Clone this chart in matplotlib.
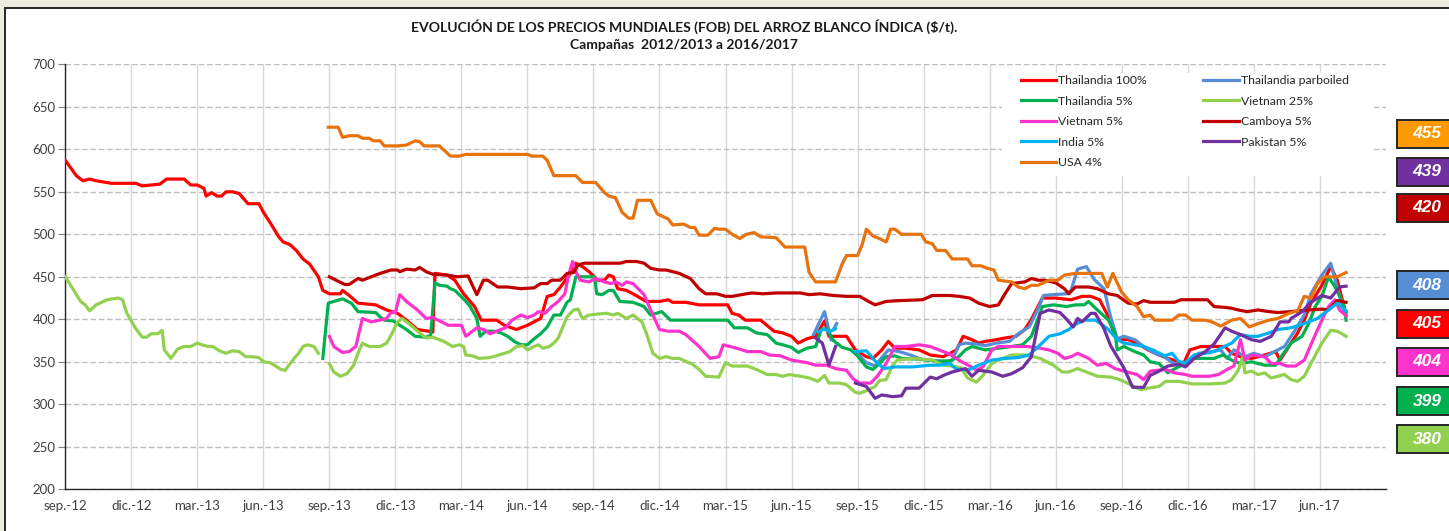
import numpy as np
import matplotlib
matplotlib.use("Agg")
import matplotlib.pyplot as plt
from matplotlib.patches import Rectangle

nan = np.nan

# (months since sep-2012, $/t)
th100 = [(0, 587), (0.5, 569), (0.8, 563), (1.1, 565), (1.4, 563), (2.1, 560), (3.2, 560), (3.5, 557),
         (4.3, 559), (4.6, 565), (5.4, 565), (5.7, 558), (6.0, 558), (6.3, 554), (6.4, 545), (6.65, 549),
         (6.9, 545), (7.1, 545), (7.3, 550), (7.6, 550), (7.9, 548), (8.3, 536), (8.8, 536), (9.0, 526),
         (9.3, 514), (9.7, 497), (9.9, 491), (10.2, 488), (10.5, 481), (10.8, 471), (11.1, 465), (11.5, 450),
         (11.7, 434), (12.0, 430), (12.5, 430), (12.6, 434), (12.9, 428), (13.3, 419), (14.1, 417), (14.6, 411),
         (15.1, 407), (15.5, 399), (16.0, 388), (16.5, 386), (16.7, 385), (16.8, 454), (17.35, 452), (17.7, 446),
         (18.1, 430), (18.6, 415), (18.9, 399), (19.6, 399), (19.95, 393), (20.5, 388), (21.0, 393), (21.6, 401),
         (21.9, 427), (22.2, 429), (22.5, 438), (22.9, 452), (23.2, 466), (23.5, 462), (23.8, 456), (24.2, 446),
         (24.5, 446), (24.7, 452), (24.9, 450), (25.1, 436), (25.5, 434), (25.8, 430), (26.4, 421), (27.0, 421),
         (27.4, 423), (27.6, 420), (28.2, 420), (28.8, 417), (30.1, 417), (30.3, 407), (30.6, 405), (30.9, 399),
         (31.6, 399), (32.2, 386), (32.6, 384), (33.0, 380), (33.3, 372), (33.7, 377), (34.1, 380), (34.5, 398),
         (34.7, 380), (35.1, 380), (35.5, 380), (35.9, 364), (36.4, 356), (36.7, 354), (37.1, 364), (37.4, 374),
         (37.7, 366), (38.2, 366), (38.8, 364), (39.3, 358), (39.9, 356), (40.5, 364), (40.8, 380), (41.2, 376),
         (41.5, 372), (41.8, 374), (42.3, 376), (42.7, 378), (43.2, 380), (43.6, 388), (43.9, 400), (44.4, 425),
         (45.0, 425), (45.7, 423), (46.2, 427), (46.6, 427), (47.0, 423), (47.4, 403), (47.7, 380), (47.9, 376),
         (48.3, 376), (48.7, 372), (49.2, 364), (49.7, 358), (50.1, 354), (50.6, 350), (50.8, 347), (51.1, 364),
         (51.6, 368), (52.1, 368), (52.7, 368), (53.0, 360), (53.4, 356), (53.9, 354), (54.5, 358), (55.0, 362),
         (55.2, 352), (55.6, 368), (56.0, 384), (56.3, 399), (56.6, 419), (57.1, 440), (57.5, 462), (57.8, 446),
         (58.2, 405)]

th_parb = [(34.0, 382), (34.5, 409), (34.8, 376), (34.85, nan), (34.9, 388), (35.05, 395), (35.5, nan),
           (35.9, 362), (36.4, 349), (36.8, 345), (37.1, 355), (37.4, 364), (37.9, 362), (38.4, 358), (38.9, 353),
           (39.5, 351), (40.0, 350), (40.3, 352), (40.6, 370), (40.9, 372), (41.4, 371), (41.8, 369), (42.3, 372),
           (42.9, 374), (43.3, 383), (43.8, 391), (44.25, 415), (44.45, 428), (44.85, 429), (45.5, 430), (45.7, 434),
           (46.0, 459), (46.4, 462), (46.75, 447), (47.2, 436), (47.5, 403), (47.8, 377), (48.1, 380), (48.6, 376),
           (49.0, 368), (49.5, 360), (49.95, 356), (50.3, 349), (50.7, 346), (51.1, 353), (51.5, 360), (52.1, 362),
           (52.5, 364), (52.8, 354), (53.1, 364), (53.6, 356), (54.0, 360), (54.5, 356), (55.1, 364), (55.4, 368),
           (55.9, 388), (56.3, 405), (56.6, 430), (57.1, 452), (57.5, 466), (57.8, 437), (58.1, 410), (58.2, 408)]

th5 = [(11.7, 354), (11.95, 419), (12.2, 421), (12.6, 424), (13.0, 419), (13.3, 409), (14.1, 408), (14.3, 403),
       (14.5, 399), (14.9, 398), (15.2, 393), (15.5, 388), (15.9, 380), (16.4, 379), (16.6, 381), (16.8, 443),
       (17.0, 440), (17.35, 439), (17.5, 436), (17.7, 434), (18.1, 424), (18.4, 415), (18.7, 401), (18.85, 380),
       (19.1, 386), (19.5, 386), (19.8, 384), (20.1, 380), (20.4, 374), (20.7, 370), (21.0, 370), (21.3, 377),
       (21.6, 383), (21.9, 391), (22.2, 405), (22.5, 405), (22.8, 420), (22.95, 423), (23.2, 450), (24.05, 450),
       (24.15, 430), (24.4, 429), (24.7, 434), (24.9, 434), (25.2, 421), (25.8, 420), (26.3, 415), (26.6, 405),
       (27.1, 409), (27.5, 399), (30.1, 399), (30.4, 390), (31.0, 390), (31.4, 384), (31.9, 382), (32.3, 372),
       (32.6, 370), (33.0, 367), (33.3, 361), (33.7, 366), (34.1, 368), (34.35, 388), (34.6, 389), (34.9, 375),
       (35.3, 367), (35.7, 364), (36.0, 357), (36.4, 344), (36.7, 341), (37.0, 348), (37.3, 356), (37.7, 357),
       (38.0, 354), (38.8, 353), (39.6, 351), (40.2, 351), (40.6, 356), (40.9, 364), (41.2, 368), (41.8, 364),
       (42.4, 366), (43.0, 368), (43.5, 370), (43.9, 380), (44.4, 415), (44.9, 417), (45.5, 415), (45.9, 417),
       (46.3, 417), (46.5, 421), (46.9, 411), (47.4, 399), (47.7, 384), (47.8, 364), (48.1, 368), (48.6, 362),
       (49.0, 358), (49.3, 350), (49.7, 348), (50.1, 337), (50.5, 343), (50.9, 348), (51.2, 354), (52.2, 354),
       (52.6, 358), (53.0, 352), (53.4, 348), (53.9, 350), (54.5, 346), (55.0, 346), (55.3, 358), (55.7, 372),
       (56.2, 380), (56.5, 395), (56.8, 415), (57.1, 427), (57.4, 450), (57.7, 438), (58.1, 417), (58.2, 399)]

vn25 = [(0, 450), (0.7, 421), (0.9, 417), (1.1, 410), (1.4, 417), (1.9, 423), (2.4, 425), (2.6, 423), (2.8, 407),
        (3.2, 389), (3.5, 379), (3.7, 379), (3.9, 383), (4.2, 383), (4.4, 387), (4.5, 364), (4.8, 354), (5.1, 365),
        (5.4, 368), (5.7, 368), (6.0, 372), (6.2, 370), (6.5, 368), (6.7, 368), (7.0, 363), (7.3, 360), (7.6, 363),
        (7.9, 362), (8.2, 356), (8.5, 356), (8.8, 355), (9.0, 350), (9.3, 349), (9.5, 346), (9.8, 341), (10.0, 340),
        (10.1, 344), (10.4, 354), (10.6, 360), (10.8, 368), (11.0, 370), (11.3, 368), (11.5, 360), (11.75, nan),
        (12.0, 348), (12.2, 338), (12.5, 333), (12.8, 336), (13.1, 346), (13.3, 360), (13.5, 372), (13.8, 368),
        (14.3, 368), (14.6, 372), (14.8, 381), (15.1, 397), (15.3, 401), (15.7, 393), (16.1, 384), (16.4, 378),
        (16.7, 379), (17.2, 374), (17.6, 368), (17.9, 370), (18.1, 368), (18.2, 358), (18.5, 357), (18.8, 354),
        (19.3, 355), (19.7, 358), (20.2, 362), (20.5, 368), (20.8, 369), (21.0, 364), (21.3, 368), (21.5, 370),
        (21.7, 366), (22.0, 368), (22.2, 372), (22.4, 378), (22.8, 403), (23.1, 411), (23.3, 412), (23.5, 401),
        (23.8, 405), (24.1, 406), (24.6, 407), (24.9, 405), (25.1, 407), (25.5, 401), (25.8, 405), (26.2, 397),
        (26.4, 384), (26.7, 360), (27.0, 354), (27.3, 356), (27.6, 354), (27.9, 354), (28.5, 347), (28.8, 341),
        (29.1, 333), (29.7, 332), (30.0, 349), (30.3, 345), (31.0, 345), (31.4, 341), (31.9, 335), (32.3, 335),
        (32.6, 333), (32.9, 335), (33.4, 333), (33.8, 331), (34.2, 327), (34.5, 334), (34.7, 325), (35.2, 325),
        (35.5, 323), (35.9, 314), (36.1, 313), (36.4, 316), (36.8, 321), (37.0, 328), (37.3, 329), (37.6, 346),
        (37.8, 352), (38.5, 354), (39.4, 352), (39.9, 346), (40.3, 345), (40.7, 343), (41.0, 331), (41.4, 326),
        (41.7, 334), (42.1, 348), (42.4, 352), (43.0, 358), (43.7, 358), (44.3, 354), (44.9, 346), (45.3, 338),
        (45.6, 338), (46.0, 342), (46.5, 337), (46.9, 333), (47.5, 332), (47.8, 330), (48.1, 327), (48.4, 323),
        (48.9, 317), (49.2, 319), (49.7, 321), (50.0, 327), (50.6, 327), (51.2, 324), (52.0, 324), (52.7, 325),
        (53.0, 329), (53.3, 340), (53.5, 356), (53.6, 337), (53.9, 339), (54.2, 335), (54.5, 337), (54.8, 331),
        (55.4, 335), (55.7, 329), (56.0, 327), (56.3, 333), (56.6, 348), (57.1, 372), (57.5, 387), (57.8, 386),
        (58.2, 380)]

vn5 = [(12.0, 380), (12.2, 368), (12.6, 361), (12.9, 362), (13.2, 368), (13.5, 401), (13.9, 397), (14.3, 399),
       (14.6, 401), (14.8, 408), (15.0, 408), (15.2, 429), (15.5, 421), (16.0, 411), (16.4, 401), (16.7, 402),
       (17.1, 397), (17.4, 393), (18.0, 393), (18.2, 380), (18.7, 390), (19.0, 388), (19.3, 383), (19.6, 386),
       (20.0, 390), (20.3, 399), (20.7, 405), (21.0, 402), (21.3, 405), (21.5, 409), (21.8, 407), (22.1, 415),
       (22.4, 421), (22.7, 430), (22.85, 450), (23.05, 468), (23.2, 456), (23.4, 446), (23.8, 444), (24.1, 448),
       (24.5, 444), (24.8, 442), (25.0, 444), (25.3, 440), (25.5, 444), (25.8, 442), (26.3, 429), (26.6, 411),
       (27.0, 388), (27.4, 386), (27.9, 386), (28.2, 382), (28.8, 368), (29.3, 354), (29.7, 356), (29.9, 370),
       (30.2, 368), (30.5, 366), (31.0, 362), (31.6, 362), (32.0, 358), (32.5, 357), (33.0, 352), (33.7, 349),
       (34.1, 346), (34.6, 346), (35.0, 342), (35.5, 340), (35.8, 330), (36.1, 325), (36.6, 325), (36.9, 333),
       (37.3, 348), (37.7, 368), (38.2, 368), (38.8, 370), (39.3, 368), (39.7, 364), (40.2, 359), (40.6, 352),
       (41.1, 345), (41.4, 340), (41.7, 344), (42.1, 364), (42.4, 368), (43.0, 368), (43.7, 368), (44.3, 366),
       (44.7, 364), (45.1, 360), (45.4, 354), (45.7, 356), (46.0, 360), (46.5, 354), (46.9, 346), (47.3, 348),
       (47.7, 342), (48.1, 339), (48.7, 335), (49.0, 329), (49.3, 339), (50.0, 341), (50.4, 337), (50.9, 335),
       (51.2, 333), (52.0, 333), (52.4, 335), (52.8, 341), (53.1, 345), (53.4, 376), (53.6, 352), (53.9, 358),
       (54.5, 356), (54.8, 348), (55.2, 348), (55.5, 345), (55.9, 345), (56.3, 352), (56.7, 376), (57.1, 399),
       (57.4, 415), (57.7, 423), (57.9, 411), (58.2, 404)]

camb5 = [(12.0, 450), (12.3, 446), (12.7, 441), (12.9, 441), (13.3, 448), (13.5, 446), (13.9, 450), (14.3, 454),
         (14.8, 458), (15.1, 458), (15.2, 456), (15.5, 459), (15.9, 458), (16.1, 461), (16.4, 456), (16.7, 453),
         (17.35, 452), (17.8, 450), (18.3, 451), (18.5, 440), (18.7, 429), (19.0, 446), (19.2, 446), (19.65, 438),
         (20.1, 438), (20.7, 436), (21.3, 437), (21.6, 442), (21.9, 442), (22.1, 446), (22.5, 446), (22.8, 454),
         (23.1, 455), (23.3, 464), (23.6, 466), (25.2, 466), (25.5, 468), (25.95, 468), (26.3, 466), (26.6, 460),
         (27.0, 458), (27.3, 458), (27.9, 454), (28.4, 448), (28.8, 436), (29.1, 430), (29.6, 430), (30.0, 427),
         (30.3, 427), (30.95, 430), (31.2, 431), (31.7, 430), (32.3, 431), (33.4, 431), (33.8, 429), (34.3, 430),
         (34.9, 428), (35.5, 427), (36.1, 427), (36.5, 421), (36.8, 417), (37.3, 421), (37.9, 422), (38.95, 423),
         (39.4, 428), (40.2, 428), (40.6, 427), (41.1, 425), (41.5, 419), (42.0, 415), (42.4, 417), (42.7, 430),
         (43.0, 442), (43.6, 444), (43.9, 448), (44.2, 446), (44.5, 446), (45.0, 443), (45.4, 436), (45.6, 430),
         (45.9, 438), (46.5, 438), (46.9, 436), (47.4, 430), (47.8, 428), (48.3, 419), (48.7, 418), (49.0, 422),
         (49.3, 420), (50.4, 420), (50.7, 423), (51.9, 423), (52.2, 415), (52.7, 414), (53.0, 413), (53.3, 411),
         (53.7, 409), (54.2, 411), (54.7, 409), (55.1, 408), (55.7, 409), (56.5, 411), (57.1, 412), (57.4, 411),
         (57.8, 422), (58.2, 420)]

india5 = [(34.2, 385), (34.5, 389), (34.7, 385), (35.0, 389), (35.5, nan), (35.9, 362), (36.4, 363), (36.8, 351),
          (37.2, 342), (37.7, 344), (38.5, 344), (39.3, 346), (39.7, 346), (40.2, 348), (40.5, 341), (41.1, 341),
          (41.5, 346), (42.1, 352), (42.7, 354), (43.3, 355), (43.8, 358), (44.3, 370), (44.7, 380), (45.2, 383),
          (45.6, 388), (45.9, 394), (46.3, 399), (46.8, 399), (47.1, 394), (47.4, 388), (47.8, 376), (48.1, 372),
          (48.6, 370), (49.0, 368), (49.5, 363), (49.95, 357), (50.3, 360), (50.6, 350), (50.9, 349), (51.3, 358),
          (51.8, 360), (52.2, 362), (52.5, 366), (53.0, 372), (53.4, 382), (53.8, 380), (54.2, 380), (54.7, 384),
          (55.1, 388), (55.7, 390), (56.3, 395), (56.9, 401), (57.4, 411), (57.8, 419), (58.2, 410)]

pak5 = [(34.1, 378), (34.4, 372), (34.7, 346), (35.0, 368), (35.5, nan), (35.9, 325), (36.4, 321), (36.8, 307),
        (37.1, 311), (37.6, 309), (38.0, 310), (38.2, 319), (38.8, 319), (39.3, 332), (39.6, 330), (39.9, 334),
        (40.3, 338), (40.9, 342), (41.2, 333), (41.5, 340), (42.1, 338), (42.6, 333), (43.0, 336), (43.5, 343),
        (43.9, 356), (44.3, 407), (44.7, 411), (45.2, 408), (45.5, 400), (45.8, 391), (46.0, 401), (46.2, 397),
        (46.6, 407), (46.8, 407), (47.2, 389), (47.5, 369), (47.8, 356), (48.1, 343), (48.5, 320), (49.0, 320),
        (49.3, 334), (49.7, 339), (50.1, 345), (50.6, 347), (50.9, 344), (51.3, 354), (51.8, 362), (52.2, 371),
        (52.7, 390), (53.0, 386), (53.4, 382), (53.9, 376), (54.3, 374), (54.8, 380), (55.2, 397), (55.6, 397),
        (55.7, 401), (56.2, 409), (56.6, 420), (57.1, 428), (57.5, 425), (57.9, 438), (58.2, 439)]

usa4 = [(11.95, 626), (12.4, 626), (12.6, 614), (12.9, 616), (13.3, 616), (13.5, 613), (13.8, 613), (14.0, 610),
        (14.3, 610), (14.5, 604), (15.1, 604), (15.5, 605), (15.9, 610), (16.1, 609), (16.3, 604), (17.0, 604),
        (17.5, 592), (17.9, 592), (18.2, 594), (21.0, 594), (21.2, 592), (21.7, 592), (21.9, 587), (22.2, 569),
        (23.2, 569), (23.5, 561), (24.1, 561), (24.5, 549), (24.7, 545), (25.0, 543), (25.3, 526), (25.6, 519),
        (25.8, 519), (26.0, 540), (26.6, 540), (26.9, 524), (27.4, 518), (27.6, 511), (28.1, 512), (28.4, 508),
        (28.6, 508), (28.8, 499), (29.2, 499), (29.5, 507), (29.7, 506), (30.0, 506), (30.3, 500), (30.65, 495),
        (30.95, 500), (31.3, 502), (31.6, 497), (32.3, 496), (32.7, 485), (33.6, 485), (33.8, 455), (34.1, 444),
        (35.0, 444), (35.3, 465), (35.5, 475), (36.0, 475), (36.2, 487), (36.4, 506), (36.7, 498), (37.0, 495),
        (37.3, 491), (37.5, 506), (37.7, 506), (38.0, 500), (38.9, 500), (39.1, 491), (39.4, 489), (39.6, 481),
        (40.0, 481), (40.3, 471), (41.0, 471), (41.2, 463), (41.6, 463), (41.9, 460), (42.2, 458), (42.4, 446),
        (43.0, 444), (43.3, 438), (43.6, 436), (43.9, 440), (44.2, 440), (44.7, 446), (45.1, 446), (45.4, 452),
        (45.9, 454), (47.1, 454), (47.35, 438), (47.6, 454), (48.0, 432), (48.3, 423), (48.7, 415), (49.0, 403),
        (49.3, 405), (49.5, 399), (50.3, 399), (50.6, 405), (50.9, 405), (51.2, 399), (51.8, 399), (52.1, 397),
        (52.5, 392), (53.0, 399), (53.4, 401), (53.8, 391), (54.2, 395), (54.7, 399), (55.1, 401), (55.6, 407),
        (56.0, 410), (56.3, 427), (56.6, 425), (56.9, 442), (57.2, 450), (57.8, 450), (58.2, 455)]

series_names = ["Thailandia 100%", "Thailandia parboiled", "Thailandia 5%", "Vietnam 25%", "Vietnam 5%",
                "Camboya 5%", "India 5%", "Pakistan 5%", "USA 4%"]
series_data = [th100, th_parb, th5, vn25, vn5, camb5, india5, pak5, usa4]
series_colors = ["#FF0000", "#558ED5", "#00B050", "#92D050", "#FF33CC", "#C00000", "#00B0F0", "#7030A0", "#E8730E"]

tick_labels = ["sep.-12", "dic.-12", "mar.-13", "jun.-13", "sep.-13", "dic.-13", "mar.-14", "jun.-14",
               "sep.-14", "dic.-14", "mar.-15", "jun.-15", "sep.-15", "dic.-15", "mar.-16", "jun.-16",
               "sep.-16", "dic.-16", "mar.-17", "jun.-17"]

# latest prices shown in the boxes on the right
box_values = [455, 439, 420, 408, 405, 404, 399, 380]
box_colors = ["#FF9900", "#7030A0", "#C00000", "#558ED5", "#FF0000", "#FF33CC", "#00B050", "#92D050"]

plt.rcParams['font.family'] = ['Lato', 'DejaVu Sans']

W, H = 1449, 531
fig = plt.figure(figsize=(W / 100, H / 100), dpi=100, facecolor="#EEECE1")
fig.patches.append(Rectangle((5 / W, -0.1), 1.1, (H - 8) / H + 0.1, transform=fig.transFigure,
                             facecolor="white", edgecolor="#262626", lw=1.4, zorder=-5))

ax = fig.add_axes([65.3 / W, 1 - 489.3 / H, 1320.4 / W, 425 / H])
ax.set_zorder(1)
ax.set_facecolor("none")

handles = {}
for name, pts, col in zip(series_names, series_data, series_colors):
    arr = np.array(pts, dtype=float)
    ln, = ax.plot(arr[:, 0], arr[:, 1], color=col, lw=2.3, solid_joinstyle="round", zorder=3)
    handles[name] = ln

ax.set_xlim(0, 60)
ax.set_ylim(200, 700)
ax.set_yticks(np.arange(200, 701, 50))
ax.set_xticks(np.arange(0, 58, 3))
ax.set_xticklabels(tick_labels)
ax.tick_params(axis="x", length=0, pad=8, labelsize=9.5, labelcolor="#404040")
ax.tick_params(axis="y", length=5, width=0.8, color="#808080", pad=2, labelsize=9.5, labelcolor="#404040")

ax.yaxis.grid(True, color="#BFBFBF", ls=(0, (4, 2)), lw=1.0, zorder=0)
ax.xaxis.grid(True, color="#D9D9D9", ls="-", lw=1.0, zorder=0)
ax.set_axisbelow(True)
for s in ["top", "right"]:
    ax.spines[s].set_visible(False)
for s in ["left", "bottom"]:
    ax.spines[s].set_color("#262626")
    ax.spines[s].set_linewidth(1.0)

# white legend area
ax.add_patch(Rectangle((0.7094, 0.7372), 0.2802, 0.2423, transform=ax.transAxes,
                       facecolor="white", edgecolor="none", zorder=2))
order = ["Thailandia 100%", "Thailandia 5%", "Vietnam 5%", "India 5%", "USA 4%",
         "Thailandia parboiled", "Vietnam 25%", "Camboya 5%", "Pakistan 5%"]
leg = ax.legend([handles[n] for n in order], order, ncol=2, loc="upper left",
                bbox_to_anchor=(0.7238, 0.9745), frameon=False, fontsize=8.8,
                handlelength=2.9, handletextpad=0.15, labelspacing=0.78, columnspacing=4.6,
                borderpad=0, borderaxespad=0)
for t in leg.get_texts():
    t.set_color("#262626")
leg.set_zorder(5)

fig.text(684 / W, 1 - 27 / H, "EVOLUCIÓN DE LOS PRECIOS MUNDIALES (FOB) DEL ARROZ BLANCO ÍNDICA ($/t).",
         ha="center", va="center", fontsize=10.1, fontweight="bold", color="#1A1A1A")
fig.text(684 / W, 1 - 45 / H, "Campañas  2012/2013 a 2016/2017",
         ha="center", va="center", fontsize=10.1, fontweight="bold", color="#1A1A1A")

box_centers = [134, 172, 208, 285, 324, 362, 401, 439]
for val, col, yc in zip(box_values, box_colors, box_centers):
    fig.patches.append(Rectangle((1397 / W, 1 - (yc + 14) / H), 0.1, 28 / H, transform=fig.transFigure,
                                 facecolor=col, edgecolor="#262626", lw=1.4, zorder=3))
    fig.text(1427 / W, 1 - yc / H, str(val), ha="center", va="center", fontsize=12.5,
             fontweight="bold", style="italic", color="white", family="Liberation Sans", zorder=4)

fig.savefig("out.png", dpi=100, facecolor=fig.get_facecolor())
